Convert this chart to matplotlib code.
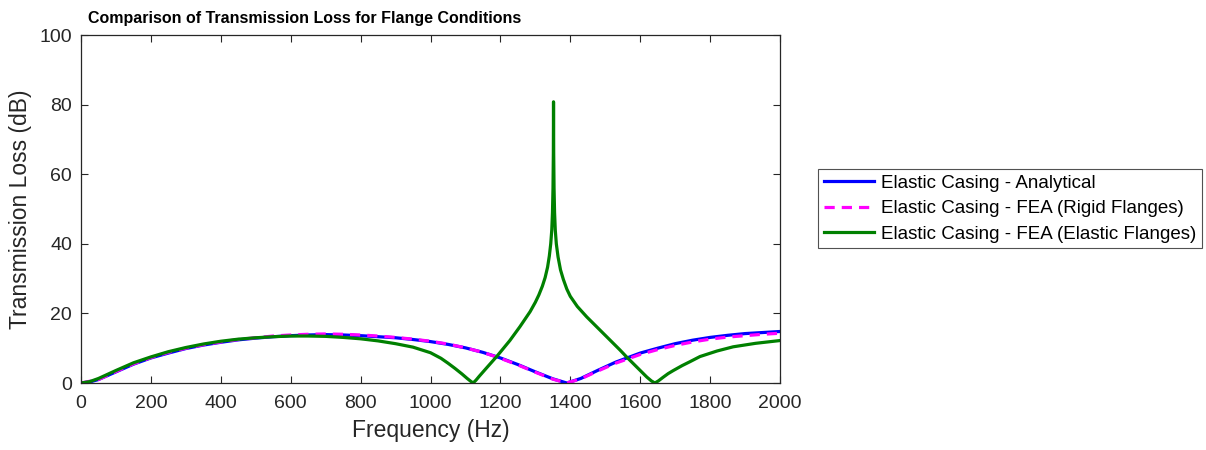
import matplotlib
matplotlib.use("Agg")
import matplotlib.pyplot as plt

# Elastic casing - analytical
freq_a = [0, 25, 50, 100, 150, 200, 250, 300, 350, 400, 450, 500, 550, 600, 650, 700,
          750, 800, 850, 900, 950, 1000, 1050, 1100, 1150, 1200, 1250, 1300, 1350, 1390,
          1430, 1480, 1530, 1600, 1650, 1700, 1750, 1800, 1850, 1900, 1950, 2000]
tl_a = [0.0, 0.3, 1.0, 3.2, 5.4, 7.2, 8.6, 9.9, 10.9, 11.7, 12.4, 12.9, 13.3, 13.6, 13.8, 13.9,
        13.8, 13.6, 13.3, 13.0, 12.5, 11.9, 11.1, 10.1, 8.8, 7.2, 5.3, 3.2, 1.2, 0.0,
        1.3, 3.7, 6.0, 8.6, 10.0, 11.3, 12.3, 13.1, 13.7, 14.2, 14.5, 14.8]

# Elastic casing - FEA, rigid flanges
freq_r = [0, 50, 100, 150, 200, 250, 300, 350, 400, 450, 500, 550, 600, 650, 700, 750,
          800, 850, 900, 950, 1000, 1050, 1100, 1150, 1200, 1250, 1300, 1350, 1390, 1430,
          1480, 1530, 1600, 1650, 1700, 1750, 1800, 1850, 1900, 1950, 2000]
tl_r = [0.0, 1.0, 3.3, 5.5, 7.3, 8.8, 10.0, 11.0, 11.8, 12.5, 13.0, 13.5, 13.8, 14.0, 14.1, 14.0,
        13.8, 13.5, 13.1, 12.6, 12.0, 11.2, 10.1, 8.8, 7.1, 5.2, 3.1, 1.1, 0.0, 1.2,
        3.5, 5.7, 8.2, 9.6, 10.8, 11.8, 12.6, 13.2, 13.6, 14.0, 14.3]

# Elastic casing - FEA, elastic flanges
freq_e = [0, 25, 50, 100, 150, 200, 250, 300, 350, 400, 450, 500, 550, 600, 650, 700,
          750, 800, 850, 900, 950, 1000, 1030, 1050, 1070, 1090, 1105, 1115, 1122, 1130,
          1140, 1161, 1191, 1227, 1256, 1285, 1300, 1310, 1320, 1328, 1335, 1340, 1344,
          1347, 1349, 1350.5, 1351.5, 1352, 1352.5, 1353.5, 1355, 1357, 1360, 1365, 1372,
          1380, 1390, 1400, 1420, 1447, 1494, 1520, 1542, 1560, 1580, 1600, 1619, 1632,
          1642, 1652, 1665, 1680, 1695, 1720, 1742, 1771, 1820, 1866, 1930, 2000]
tl_e = [0.0, 0.4, 1.3, 3.6, 5.8, 7.5, 9.0, 10.2, 11.2, 12.0, 12.6, 13.0, 13.3, 13.5, 13.5, 13.4,
        13.1, 12.7, 12.1, 11.3, 10.3, 8.7, 7.1, 5.7, 4.2, 2.6, 1.3, 0.5, 0.0, 0.8,
        2.0, 4.4, 7.8, 12.2, 16.2, 20.5, 23.2, 25.3, 27.8, 30.3, 33.3, 36.5, 40.0,
        44.0, 49.0, 56.0, 66.0, 80.8, 66.0, 56.0, 49.0, 44.0, 40.0, 36.2, 32.5,
        29.8, 27.0, 24.9, 22.0, 19.0, 14.3, 11.7, 9.5, 7.6, 5.6, 3.6, 1.7, 0.6,
        0.0, 0.6, 1.6, 2.7, 3.6, 5.0, 6.1, 7.6, 9.2, 10.4, 11.4, 12.2]

labels = ["Elastic Casing - Analytical",
          "Elastic Casing - FEA (Rigid Flanges)",
          "Elastic Casing - FEA (Elastic Flanges)"]

plt.rcParams['font.family'] = ['Liberation Sans', 'DejaVu Sans']
dark = '#262626'

fig = plt.figure(figsize=(12.06, 4.5), dpi=100)
ax = fig.add_axes([81/1206, 1 - 383/450, 699/1206, 348/450])

ax.plot(freq_a, tl_a, color=(0, 0, 1), lw=2.3, label=labels[0])
ax.plot(freq_r, tl_r, color=(1, 0, 1), lw=2.3, ls=(0, (3.2, 2.2)), label=labels[1])
ax.plot(freq_e, tl_e, color=(0, 0.5, 0), lw=2.3, label=labels[2])

ax.set_xlim(0, 2000)
ax.set_ylim(0, 100)
ax.set_xticks(range(0, 2001, 200))
ax.set_yticks(range(0, 101, 20))
ax.tick_params(direction='in', top=True, right=True, length=5, width=0.8,
               colors=dark, labelsize=14)
ax.tick_params(axis='x', pad=9)
ax.tick_params(axis='y', pad=6.5)
for s in ax.spines.values():
    s.set_color(dark)
    s.set_linewidth(0.9)

ax.set_xlabel('Frequency (Hz)', fontsize=16.5, color=dark, labelpad=5)
ax.set_ylabel('Transmission Loss (dB)', fontsize=16.5, color=dark, labelpad=5)

fig.text(305/1206, 1 - 18.5/450, 'Comparison of Transmission Loss for Flange Conditions',
         ha='center', va='center', fontsize=11.5, fontweight='bold')

leg = ax.legend(loc='center left', bbox_to_anchor=(818/1206, 1 - 208.5/450),
                bbox_transform=fig.transFigure, fontsize=13.5, frameon=True,
                fancybox=False, handlelength=2.7, handletextpad=0.37,
                labelspacing=0.45, borderpad=0.3, borderaxespad=0)
leg.get_frame().set_edgecolor(dark)
leg.get_frame().set_linewidth(0.8)

fig.savefig('out.png', dpi=100)
